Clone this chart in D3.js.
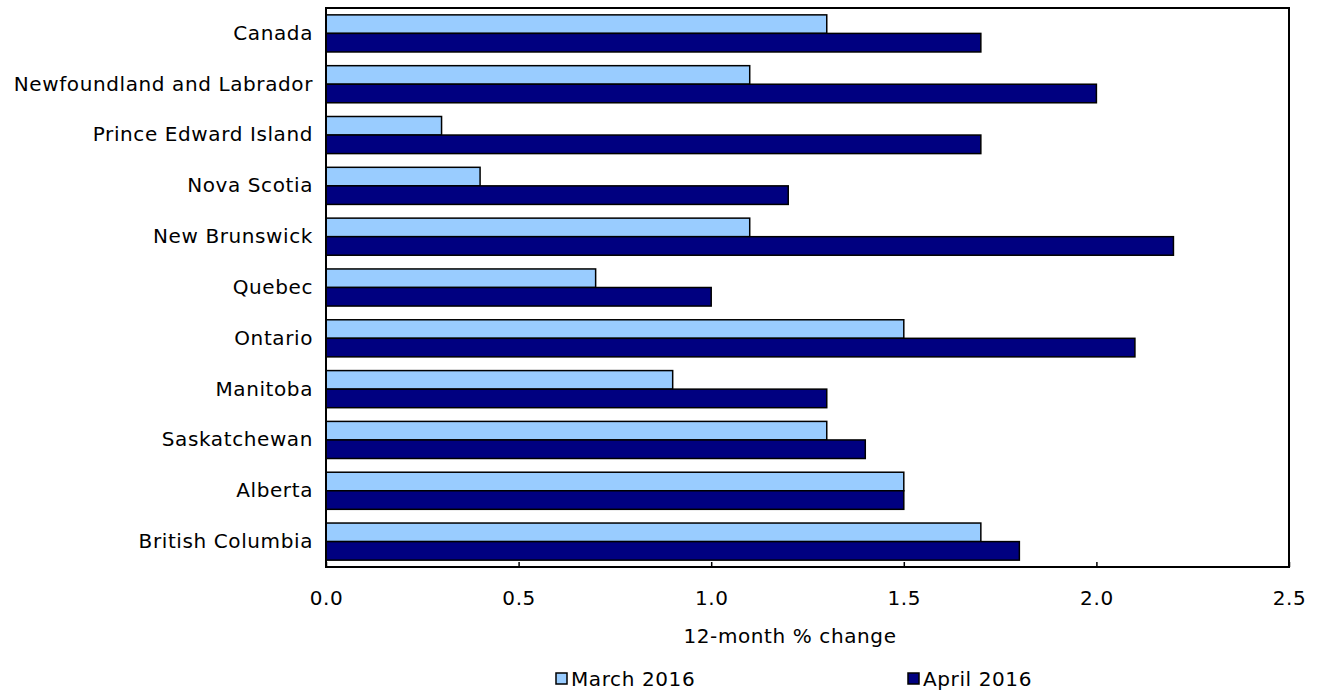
<!DOCTYPE html>
<html><head><meta charset="utf-8">
<script src="https://cdn.jsdelivr.net/npm/d3@7"></script>
<style>body{margin:0;background:#fff;} text{font-family:"DejaVu Sans",Verdana,sans-serif;fill:#000;letter-spacing:0.6px;}</style>
</head><body><svg id="c" width="1317" height="691"></svg>
<script>
const categories = ["Canada","Newfoundland and Labrador","Prince Edward Island","Nova Scotia","New Brunswick","Quebec","Ontario","Manitoba","Saskatchewan","Alberta","British Columbia"];
const march2016 = [1.3,1.1,0.3,0.4,1.1,0.7,1.5,0.9,1.3,1.5,1.7];
const april2016 = [1.7,2.0,1.7,1.2,2.2,1.0,2.1,1.3,1.4,1.5,1.8];
const seriesNames = ["March 2016","April 2016"];
const xTicks = [0,0.5,1.0,1.5,2.0,2.5];
const colors = ["#99ccff","#000080"];

const svg = d3.select("#c");
const L=326, R=1289, T=8, B=567;
const FS=20;
const x = d3.scaleLinear().domain([0,2.5]).range([L,R]);
const y = d3.scaleBand().domain(categories).range([T,B]).paddingInner(0.27).paddingOuter(0.135);
const sub = d3.scaleBand().domain(seriesNames).range([0,y.bandwidth()]);
const series=[march2016,april2016];

const g = svg.append("g");
series.forEach((vals,si)=>{
  g.selectAll(null).data(categories).enter().append("rect")
   .attr("x",x(0)).attr("y",(d)=>y(d)+sub(seriesNames[si]))
   .attr("width",(d,i)=>x(vals[i])-x(0)).attr("height",sub.bandwidth())
   .attr("fill",colors[si]).attr("stroke","#000").attr("stroke-width",1.5);
});
// frame
svg.append("rect").attr("x",L).attr("y",T).attr("width",R-L).attr("height",B-T)
  .attr("fill","none").attr("stroke","#000").attr("stroke-width",2);
// x axis
const xa = svg.append("g").attr("transform",`translate(0,${B})`)
  .call(d3.axisBottom(x).tickValues(xTicks).tickFormat(d3.format(".1f")).tickSizeInner(-5).tickSizeOuter(0).tickPadding(24));
xa.select(".domain").remove();
xa.selectAll("line").attr("stroke","#000").attr("stroke-width",1.5);
xa.selectAll("text").attr("font-size",FS).attr("font-family","DejaVu Sans");
// y labels
const ya = svg.append("g").attr("transform",`translate(${L},0)`)
  .call(d3.axisLeft(y).tickSize(0).tickPadding(13));
ya.select(".domain").remove();
ya.selectAll("text").attr("font-size",FS).attr("font-family","DejaVu Sans");
// axis title
svg.append("text").attr("x",790).attr("y",643).attr("text-anchor","middle").attr("font-size",FS).text("12-month % change");
// legend
const legX=[556,908];
seriesNames.forEach((n,i)=>{
  svg.append("rect").attr("x",legX[i]).attr("y",673).attr("width",11).attr("height",11)
    .attr("fill",colors[i]).attr("stroke","#000").attr("stroke-width",1.5);
  svg.append("text").attr("x",legX[i]+15).attr("y",686).attr("font-size",FS).text(n);
});
</script></body></html>
